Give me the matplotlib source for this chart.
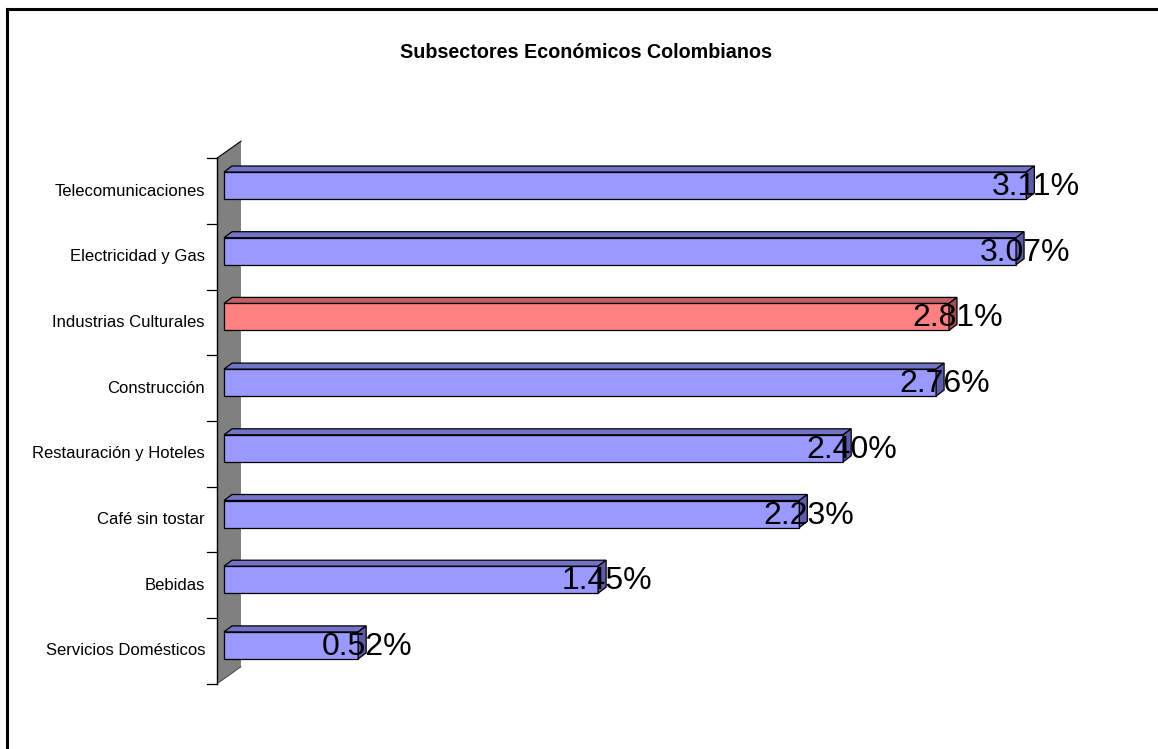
import matplotlib
matplotlib.use("Agg")
import matplotlib.pyplot as plt
from matplotlib.patches import Polygon
from matplotlib.lines import Line2D

categories = ["Telecomunicaciones", "Electricidad y Gas", "Industrias Culturales",
              "Construcción", "Restauración y Hoteles", "Café sin tostar",
              "Bebidas", "Servicios Domésticos"]
values = [3.11, 3.07, 2.81, 2.76, 2.40, 2.23, 1.45, 0.52]
labels = ["3.11%", "3.07%", "2.81%", "2.76%", "2.40%", "2.23%", "1.45%", "0.52%"]
highlight = "Industrias Culturales"
title = "Subsectores Económicos Colombianos"

plt.rcParams['font.family'] = ['Liberation Sans', 'DejaVu Sans']

W, H, DPI = 1158, 749, 100
fig = plt.figure(figsize=(W / DPI, H / DPI), dpi=DPI)

# axes placement (pixels)
x0_px = 224
scale_x = 258.0      # px per unit
spacing = 65.7       # px per category
top_px = 185.5 - spacing / 2
n = len(categories)
xmax = 3.5
ax = fig.add_axes([x0_px / W, 1 - (top_px + n * spacing) / H,
                   xmax * scale_x / W, n * spacing / H])
ax.set_xlim(0, xmax)
ax.set_ylim(n - 0.5, -0.5)
ax.axis('off')

px = 1.0 / scale_x
py = 1.0 / spacing
h = 27 * py
ddx, ddy = 8 * px, 6 * py

# side wall
wf_dx, wf_dy = -7 * px, 5.5 * py
wb_dx, wb_dy = 17 * px, -11.5 * py
wall = Polygon([(wf_dx, -0.5 + wf_dy), (wf_dx, n - 0.5 + wf_dy),
                (wb_dx, n - 0.5 + wb_dy), (wb_dx, -0.5 + wb_dy)],
               closed=True, facecolor='#808080', edgecolor='none', clip_on=False, zorder=1)
ax.add_patch(wall)
ax.plot([wf_dx, wf_dx], [-0.5 + wf_dy, n - 0.5 + wf_dy], color='black', lw=1.0,
        clip_on=False, zorder=2)
ax.plot([wf_dx, wb_dx], [-0.5 + wf_dy, -0.5 + wb_dy], color='black', lw=0.8,
        clip_on=False, zorder=2)
ax.plot([wf_dx, wb_dx], [n - 0.5 + wf_dy, n - 0.5 + wb_dy], color='#333333', lw=0.6,
        clip_on=False, zorder=2)
for k in range(n + 1):
    ax.plot([-17 * px, wf_dx], [k - 0.5 + wf_dy] * 2, color='black', lw=0.9,
            clip_on=False, zorder=2)

for k, (cat, v, lab) in enumerate(zip(categories, values, labels)):
    if cat == highlight:
        front, topc, side = '#FF8080', '#C06060', '#A05050'
    else:
        front, topc, side = '#9999FF', '#7373C8', '#5C5CA8'
    ax.barh(k, v, height=h, color=front, edgecolor='black', linewidth=0.9,
            zorder=3, clip_on=False)
    yt = k - h / 2
    yb = k + h / 2
    ax.add_patch(Polygon([(0, yt), (v, yt), (v + ddx, yt - ddy), (ddx, yt - ddy)],
                         closed=True, facecolor=topc, edgecolor='black', lw=0.9,
                         zorder=3, clip_on=False))
    ax.add_patch(Polygon([(v, yt), (v + ddx, yt - ddy), (v + ddx, yb - ddy), (v, yb)],
                         closed=True, facecolor=side, edgecolor='black', lw=0.9,
                         zorder=3, clip_on=False))
    ax.text(v + 9 * px, k + 9.5 * py, lab, ha='center', va='baseline',
            fontsize=23, color='black', zorder=5, clip_on=False)
    ax.text(-19 * px, k + 5.5 * py, cat, ha='right', va='center',
            fontsize=12, color='black', clip_on=False)

fig.text(586 / W, 1 - 52 / H, title, ha='center', va='center',
         fontsize=14.2, fontweight='bold')

# chart border (cropped: top and left only visible)
fig.add_artist(Line2D([6.5 / W, 1], [1 - 8.5 / H, 1 - 8.5 / H], color='black', lw=2.2,
                      transform=fig.transFigure))
fig.add_artist(Line2D([6.5 / W, 6.5 / W], [0, 1 - 8.5 / H], color='black', lw=2.2,
                      transform=fig.transFigure))

fig.savefig("out.png", dpi=DPI, facecolor='white')
